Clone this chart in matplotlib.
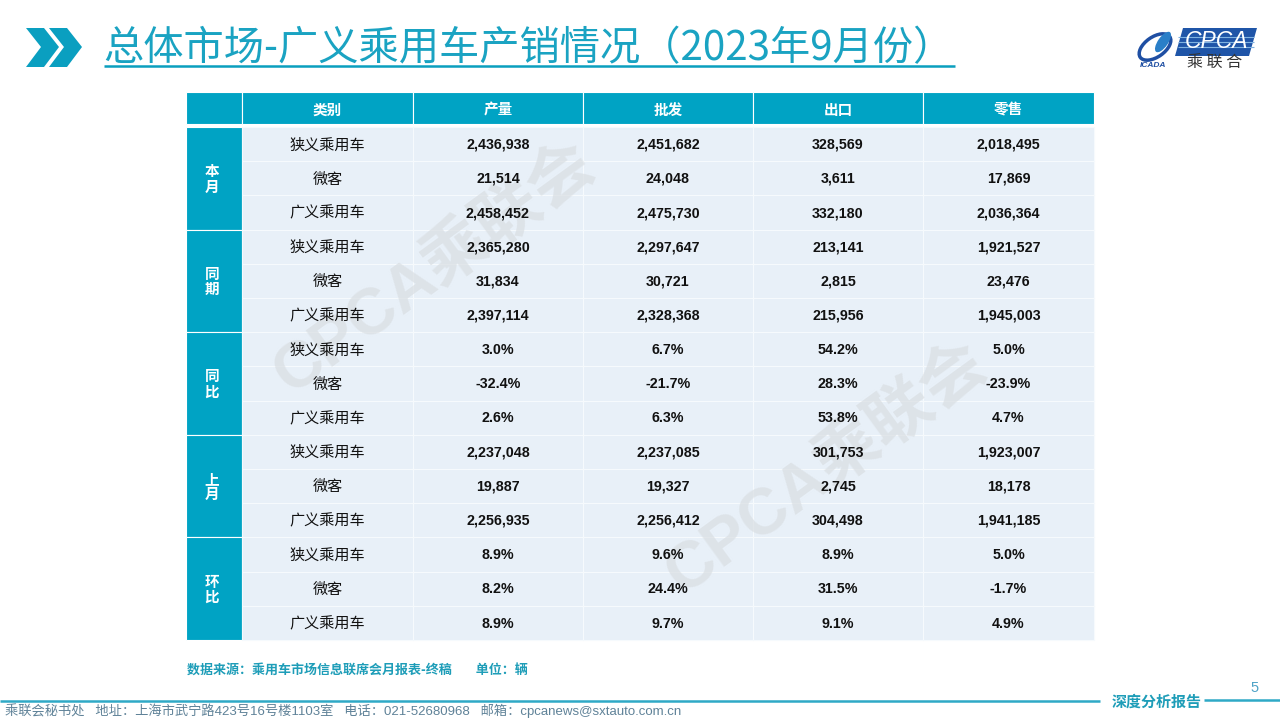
import matplotlib
matplotlib.use("Agg")
import matplotlib.pyplot as plt
from matplotlib.patches import Rectangle, Polygon, Ellipse

FONT = ['Liberation Sans', 'Noto Sans CJK SC', 'DejaVu Sans']
CJK = ['Noto Sans CJK SC', 'DejaVu Sans']
plt.rcParams['font.family'] = FONT

title = "总体市场-广义乘用车产销情况（2023年9月份）"
headers = ["类别", "产量", "批发", "出口", "零售"]
groups = ["本\n月", "同\n期", "同\n比", "上\n月", "环\n比"]
categories = ["狭义乘用车", "微客", "广义乘用车"]
production = ["2,436,938", "21,514", "2,458,452", "2,365,280", "31,834", "2,397,114",
              "3.0%", "-32.4%", "2.6%", "2,237,048", "19,887", "2,256,935",
              "8.9%", "8.2%", "8.9%"]
wholesale = ["2,451,682", "24,048", "2,475,730", "2,297,647", "30,721", "2,328,368",
             "6.7%", "-21.7%", "6.3%", "2,237,085", "19,327", "2,256,412",
             "9.6%", "24.4%", "9.7%"]
exports = ["328,569", "3,611", "332,180", "213,141", "2,815", "215,956",
           "54.2%", "28.3%", "53.8%", "301,753", "2,745", "304,498",
           "8.9%", "31.5%", "9.1%"]
retail = ["2,018,495", "17,869", "2,036,364", "1,921,527", "23,476", "1,945,003",
          "5.0%", "-23.9%", "4.7%", "1,923,007", "18,178", "1,941,185",
          "5.0%", "-1.7%", "4.9%"]
columns = [production, wholesale, exports, retail]

TEAL = "#00A3C4"
CELL = "#E8F0F8"
fig = plt.figure(figsize=(12.8, 7.2), dpi=100)
ax = fig.add_axes([0, 0, 1, 1])
ax.set_xlim(0, 1280)
ax.set_ylim(720, 0)
ax.axis("off")

# watermark
for x, y in [(434, 268), (826, 468)]:
    ax.text(x, y, "CPCA乘联会", fontsize=47, fontweight="bold", color="#D9DEE2",
            rotation=36, ha="center", va="center", family=FONT, alpha=0.7, zorder=3)

# chevrons
for dx in (0, 23):
    ax.add_patch(Polygon([(26+dx, 28), (44+dx, 28), (59+dx, 47), (44+dx, 67), (26+dx, 67), (41+dx, 47)],
                         closed=True, fc="#0A9FC0", ec="none"))
# title
ax.text(103, 49, title, fontsize=29, color="#1AA3C2", va="center", ha="left", family=CJK)
ax.plot([104, 955], [66, 66], color="#0A9FBE", lw=1.8, solid_capstyle="butt")

# logo
ax.add_patch(Ellipse((1155, 47), 36, 20, angle=-35, fc="none", ec="#1F4FA3", lw=2.5))
ax.add_patch(Ellipse((1163, 42), 10, 24, angle=35, fc="#2A7FC8", ec="none"))
ax.text(1153, 65.5, "ICADA", fontsize=6, color="#1F4FA3", style="italic", fontweight="bold",
        ha="center", va="center")
ax.add_patch(Polygon([(1183, 28), (1257, 28), (1249, 56), (1175, 56)], closed=True, fc="#1F55A8", ec="none"))
for sy in (37, 42, 47):
    ax.plot([1178, 1254], [sy, sy], color="#7FB2E0", lw=0.8, solid_capstyle="butt")
ax.text(1216, 42, "CPCA", fontsize=16.5, color="white", style="italic", ha="center", va="center")
ax.text(1215, 63.5, "乘 联 合", fontsize=11.5, color="#333333", ha="center", va="center", family=CJK)

# table
xs = [186, 242, 413, 583, 753, 923, 1094]
hy0, hy1 = 92, 124
by0, rowh = 127, 34.2

for i in range(6):
    ax.add_patch(Rectangle((xs[i], hy0), xs[i+1]-xs[i], hy1-hy0, fc=TEAL, ec="white", lw=0.8, zorder=1))
for i, h in enumerate(headers):
    ax.text((xs[i+1]+xs[i+2])/2, 110, h, color="white", fontsize=10.5, fontweight="bold",
            ha="center", va="center", family=CJK, zorder=5)

for g, name in enumerate(groups):
    y = by0 + g*3*rowh
    ax.add_patch(Rectangle((xs[0], y), xs[1]-xs[0], 3*rowh, fc=TEAL, ec="white", lw=0.8, zorder=1))
    ax.text((xs[0]+xs[1])/2 - 2, y+1.5*rowh + 0.5, name, color="white", fontsize=10.5, fontweight="bold",
            ha="center", va="center", linespacing=0.95, family=CJK, zorder=5)

for r in range(15):
    y = by0 + r*rowh
    for c in range(1, 6):
        ax.add_patch(Rectangle((xs[c], y), xs[c+1]-xs[c], rowh, fc=CELL, ec="#F6FAFD", lw=0.8, zorder=1))
    ax.text((xs[1]+xs[2])/2, y+rowh/2 + 0.8, categories[r % 3], fontsize=10.9, color="#111111",
            ha="center", va="center", family=CJK, zorder=5)
    for c, col in enumerate(columns):
        ax.text((xs[c+2]+xs[c+3])/2, y+rowh/2 + 0.6, col[r], fontsize=10.3, fontweight="bold", color="#111111",
                ha="center", va="center", zorder=5)

# source note
ax.text(187, 671, "数据来源：乘用车市场信息联席会月报表-终稿        单位：辆", fontsize=9.36, fontweight="bold",
        color="#1E9DB8", ha="left", va="center", family=CJK)

# footer
ax.plot([0, 1100], [701, 701], color="#2FA9C6", lw=1.8, solid_capstyle="butt")
ax.plot([1204, 1280], [700, 700], color="#2FA9C6", lw=1.8, solid_capstyle="butt")
ax.text(1157, 702, "深度分析报告", fontsize=10.8, fontweight="bold", color="#1E9DB8",
        ha="center", va="center", family=CJK)
ax.text(1255, 688, "5", fontsize=10.5, color="#4FA3C7", ha="center", va="center")
ax.text(5, 711, "乘联会秘书处   地址：上海市武宁路423号16号楼1103室   电话：021-52680968   邮箱：cpcanews@sxtauto.com.cn",
        fontsize=9.55, color="#5F8298", ha="left", va="center")

fig.savefig("out.png", dpi=100)
